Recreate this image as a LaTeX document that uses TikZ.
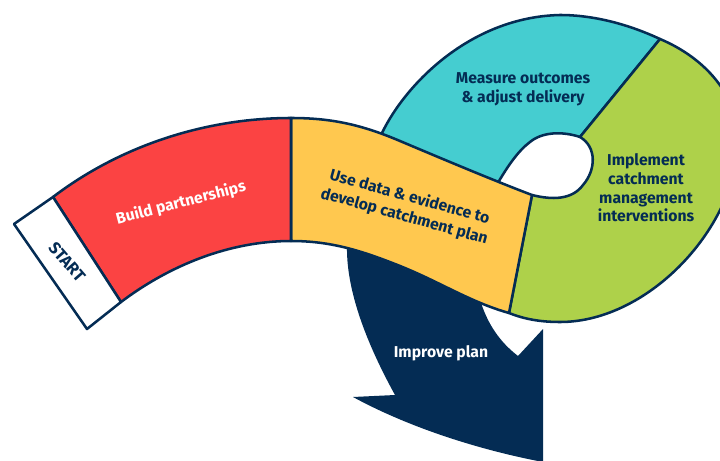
\documentclass[tikz,border=0pt]{standalone}
\usepackage{fontspec}
\setmainfont{Fira Sans}
\definecolor{navy}{HTML}{042C54}
\definecolor{redc}{HTML}{FB4343}
\definecolor{yelc}{HTML}{FFC84F}
\definecolor{teac}{HTML}{45CDD0}
\definecolor{grec}{HTML}{AED14A}
\tikzset{
  seg/.style={draw=navy,line width=1.9pt,line join=round},
  lab/.style={font=\fontsize{11.8}{14}\selectfont\bfseries,align=center,inner sep=0pt,text=navy},
  labw/.style={lab,text=white}
}
\begin{document}
\begin{tikzpicture}[x=0.75pt,y=-0.75pt]
\useasboundingbox (0,0) rectangle (720,460);
\clip (0,0) rectangle (720,460);
% arrow
\fill[navy] (347,245) .. controls (346,285) and (362,335) .. (395,395)
  -- (353,397) .. controls (410,428) and (480,450) .. (543,462)
  -- (543,329) -- (518,356) .. controls (500,342) and (488,325) .. (480,300) -- cycle;
% teal
\draw[seg,fill=teac] (382,133) .. controls (405,85) and (470,17) .. (560,15)
  .. controls (595,15) and (630,25) .. (660,39)
  -- (580,137) .. controls (562,131) and (542,132) .. (530,142)
  .. controls (518,151) and (508,166) .. (499,181) -- (499,195) -- (382,150) -- cycle;
% green
\draw[seg,fill=grec] (660,39) .. controls (705,58) and (738,95) .. (738,140)
  .. controls (738,225) and (650,322) .. (560,322)
  .. controls (540,322) and (524,319) .. (509,313)
  -- (532,195) .. controls (552,200) and (572,200) .. (583,185)
  .. controls (596,170) and (597,147) .. (580,137) -- cycle;
% yellow
\draw[seg,fill=yelc] (291,118) .. controls (330,118) and (360,124) .. (400,141)
  .. controls (445,160) and (495,181) .. (532,195)
  -- (509,313) .. controls (470,302) and (440,282) .. (400,266)
  .. controls (360,250) and (330,241) .. (291,241) -- cycle;
% red
\draw[seg,fill=redc] (53,197) .. controls (120,146) and (205,118) .. (291,118)
  -- (291,241) .. controls (230,241) and (170,265) .. (121,302) -- cycle;
% start
\draw[seg,fill=white] (14,224) -- (53,197) -- (121,302) -- (87,329) -- cycle;
\node[lab,rotate=-49,font=\fontsize{12.5}{14}\selectfont\bfseries] (start) at (67,262) {START};
\node[labw,rotate=14.5] (build) at (181,203) {Build partnerships};
\node[lab,rotate=-15.5] (use) at (407,207) {Use data \& evidence to\\[1pt]develop catchment plan};
\node[lab] (measure) at (523,89) {Measure outcomes\\\& adjust delivery};
\node[lab] (impl) at (646,188) {Implement\\catchment\\management\\interventions};
\node[labw] (improve) at (441,353) {Improve plan};
\end{tikzpicture}
\end{document}
